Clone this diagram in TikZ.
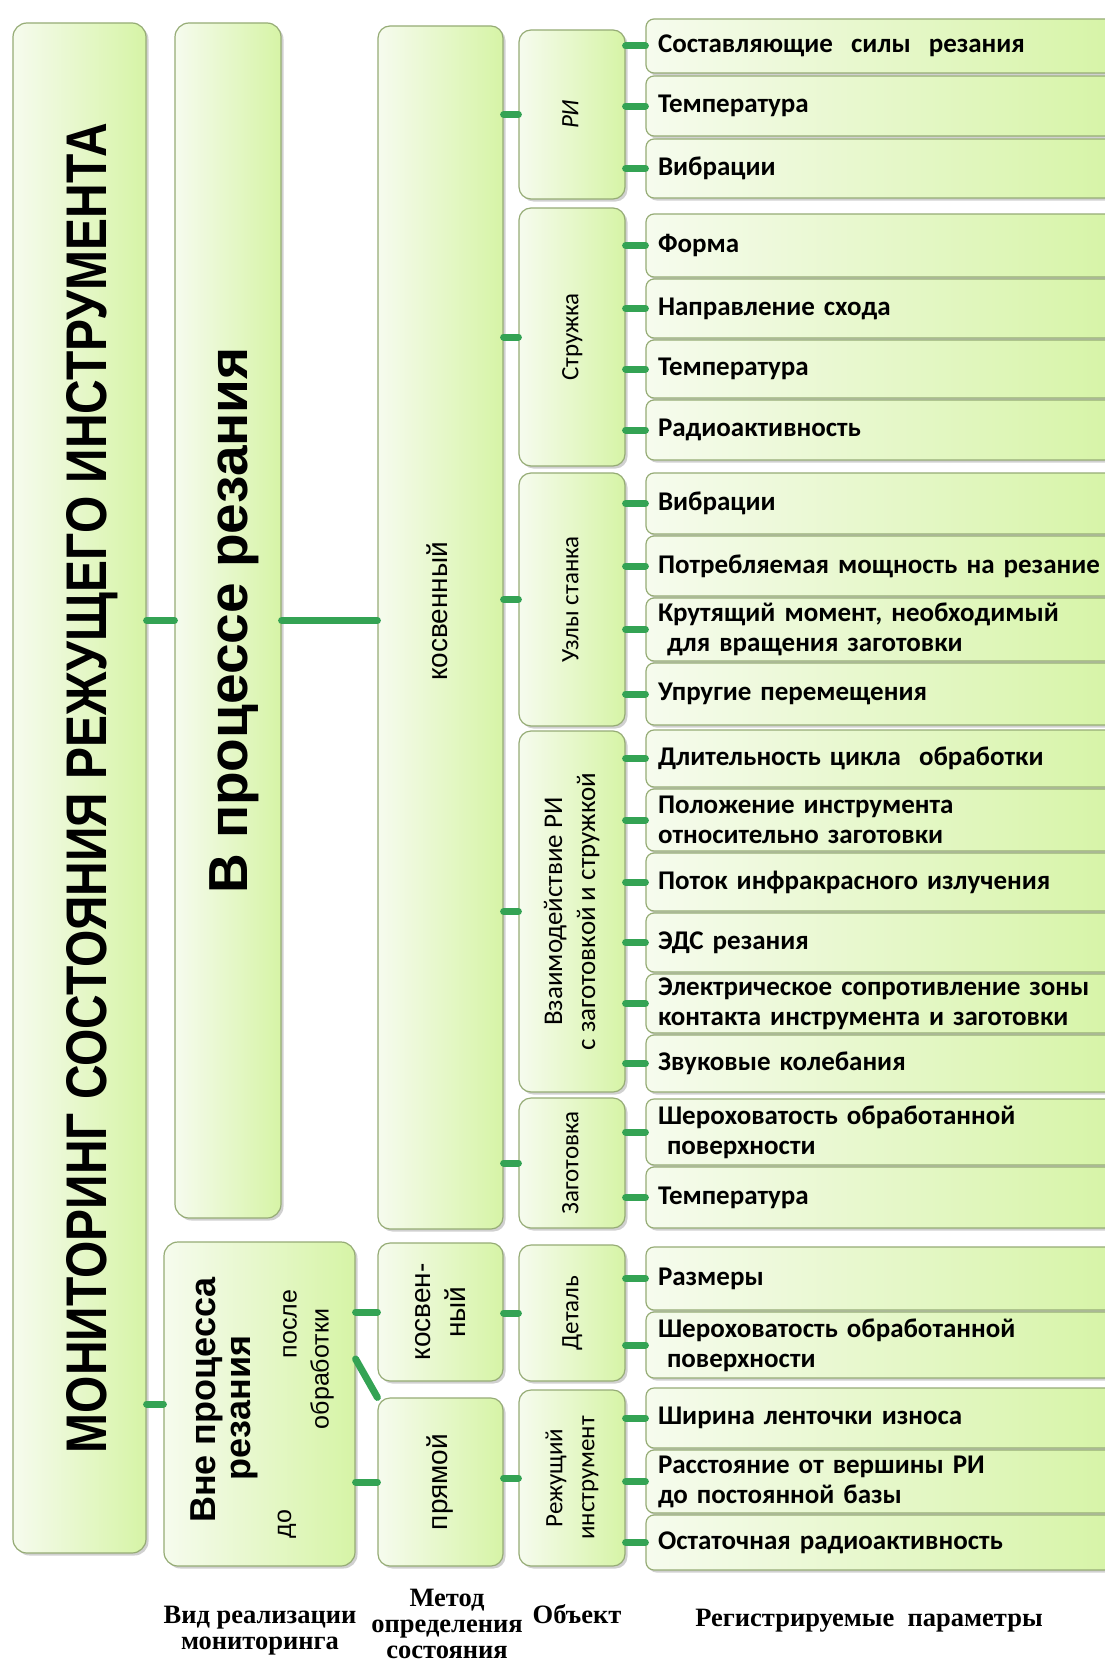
\documentclass[tikz,border=0pt]{standalone}
\usepackage{fontspec}
\setmainfont{Carlito}
\newfontfamily\ls{Liberation Sans}
\newfontfamily\lser{Liberation Serif}
\usetikzlibrary{shadows}
\definecolor{bxL}{RGB}{246,251,238}
\definecolor{bxR}{RGB}{214,244,166}
\definecolor{bxD}{RGB}{150,172,118}
\definecolor{cn}{RGB}{52,163,84}
\tikzset{
 bx/.style={draw=bxD, line width=1.2pt, left color=bxL, right color=bxR, inner sep=0pt,
   drop shadow={shadow xshift=2.5pt, shadow yshift=-2.5pt, opacity=0.3, fill=black!60}},
 big/.style={bx, rounded corners=14pt},
 obj/.style={bx, rounded corners=12pt, font=\fontsize{25}{32}\selectfont},
 meth/.style={bx, rounded corners=12pt, font=\ls\fontsize{28}{35}\selectfont},
 prm/.style={bx, rounded corners=8pt, text width=450pt, align=left, font=\bfseries\fontsize{27}{30}\selectfont},
 conn/.style={draw=cn, line width=7pt, line cap=round},
 lbl/.style={font=\lser\bfseries\fontsize{26.5}{26}\selectfont, align=center},
 vt/.style={rotate=90, inner sep=0pt}
}
% [options]{name}{x1}{y1}{x2}{y2}{text}
\newcommand\bxnode[7][]{\node[#1, minimum width={(#5-#3)*1pt}, minimum height={(#6-#4)*1pt}]
  (#2) at ({(#3+#5)/2},{(#4+#6)/2}) {#7};}
\newcommand\prmbox[4]{\bxnode[prm]{#1}{646}{#2}{1120}{#3}{#4}}
\newcommand\rt[1]{\rotatebox{90}{\begin{tabular}{@{}c@{}}#1\end{tabular}}}
\begin{document}
\begin{tikzpicture}[x=1pt,y=-1pt]
\useasboundingbox[fill=white] (0,0) rectangle (1105,1662);

% column 1
\bxnode[big]{main}{13}{23}{146}{1553}{\hspace*{26pt}\rotatebox{90}{\resizebox{1330pt}{40pt}{\ls\bfseries МОНИТОРИНГ СОСТОЯНИЯ РЕЖУЩЕГО ИНСТРУМЕНТА}}}
% column 2
\bxnode[big, font=\ls\bfseries\fontsize{55}{57}\selectfont]{inproc}{175}{23}{281}{1218}{\hspace*{17pt}\rt{В процессе резания}}
\bxnode[big]{vne}{164}{1242}{355}{1566}{}
\node[vt, font=\ls\bfseries\fontsize{36}{36}\selectfont] (vneA) at (207,1400) {Вне процесса};
\node[vt, font=\ls\bfseries\fontsize{36}{36}\selectfont] (vneB) at (245,1408) {резания};
\node[vt, font=\ls\fontsize{25}{25}\selectfont] (vneC) at (287,1524) {до};
\node[vt, font=\ls\fontsize{25}{25}\selectfont] (vneD) at (290,1324) {после};
\node[vt, font=\ls\fontsize{25}{25}\selectfont] (vneE) at (322,1369) {обработки};
% column 3
\bxnode[meth]{kosv}{378}{26}{503}{1229}{\rt{\hspace*{32pt}косвенный}}
\bxnode[meth]{kosv2}{378}{1243}{503}{1381}{\rt{косвен-\\ный}}
\bxnode[meth]{pryam}{378}{1398}{503}{1566}{\rt{прямой}}
% column 4
\bxnode[obj]{ri}{519}{30}{625}{199}{\rt{\itshape РИ}}
\bxnode[obj]{str}{519}{208}{625}{466}{\rt{Стружка}}
\bxnode[obj]{uzl}{519}{473}{625}{726}{\rt{Узлы станка}}
\bxnode[obj, font=\fontsize{27}{33}\selectfont]{vz}{519}{731}{625}{1092}{\rt{Взаимодействие РИ\\с заготовкой и стружкой}}
\bxnode[obj]{zag}{519}{1098}{625}{1228}{\rt{Заготовка}}
\bxnode[obj]{det}{519}{1245}{625}{1381}{\rt{Деталь}}
\bxnode[obj]{rez}{519}{1390}{625}{1566}{\rt{Режущий\\инструмент}}
% column 5
\prmbox{p1}{19}{73}{Составляющие~ силы~ резания}
\prmbox{p2}{76}{136}{\raisebox{-3pt}{Температура}}
\prmbox{p3}{139}{198}{\raisebox{-3pt}{Вибрации}}
\prmbox{p4}{214}{277}{Форма}
\prmbox{p5}{279}{338}{Направление схода}
\prmbox{p6}{340}{398}{Температура}
\prmbox{p7}{400}{460}{Радиоактивность}
\prmbox{p8}{473}{534}{Вибрации}
\prmbox{p9}{536}{596}{Потребляемая мощность на резание}
\prmbox{p10}{598}{661}{Крутящий момент, необходимый\\\ для вращения заготовки}
\prmbox{p11}{663}{725}{Упругие перемещения}
\prmbox{p12}{730}{787}{Длительность цикла~ обработки}
\prmbox{p13}{789}{851}{Положение инструмента\\относительно заготовки}
\prmbox{p14}{853}{911}{Поток инфракрасного излучения}
\prmbox{p15}{913}{972}{ЭДС резания}
\prmbox{p16}{974}{1033}{Электрическое сопротивление зоны\\контакта инструмента и заготовки}
\prmbox{p17}{1035}{1092}{Звуковые колебания}
\prmbox{p18}{1099}{1165}{Шероховатость обработанной\\\ поверхности}
\prmbox{p19}{1167}{1228}{Температура}
\prmbox{p20}{1247}{1310}{Размеры}
\prmbox{p21}{1312}{1378}{Шероховатость обработанной\\\ поверхности}
\prmbox{p22}{1388}{1448}{Ширина ленточки износа}
\prmbox{p23}{1450}{1513}{Расстояние от вершины РИ\\до постоянной базы}
\prmbox{p24}{1515}{1570}{Остаточная радиоактивность}

% connectors
\draw[conn] (inproc.west -| main.east) -- (inproc.west);
\draw[conn] (inproc.east) -- (inproc.east -| kosv.west);
\draw[conn] (vne.west -| main.east) -- (vne.west);
\draw[conn] (kosv2.west -| vne.east) -- (kosv2.west);
\draw[conn] (pryam.west -| vne.east) -- (pryam.west);
\draw[conn] ([yshift=45pt]vne.east) -- (pryam.north west);
\foreach \o in {ri,str,uzl,vz,zag} \draw[conn] (\o.west -| kosv.east) -- (\o.west);
\draw[conn] (det.west -| kosv2.east) -- (det.west);
\draw[conn] (rez.west -| pryam.east) -- (rez.west);
\foreach \o/\p in {ri/p1,ri/p2,ri/p3,str/p4,str/p5,str/p6,str/p7,uzl/p8,uzl/p9,uzl/p10,uzl/p11,
  vz/p12,vz/p13,vz/p14,vz/p15,vz/p16,vz/p17,zag/p18,zag/p19,det/p20,det/p21,rez/p22,rez/p23,rez/p24}
  \draw[conn] (\p.west -| \o.east) -- (\p.west);

% bottom labels
\node[lbl] (lv) at (260,1631) {Вид реализации\\мониторинга};
\node[lbl] (lm) at (447,1624) {Метод\\определения\\состояния};
\node[lbl] (lo) at (577,1614) {Объект};
\node[lbl] (lr) at (869,1621) {Регистрируемые~ параметры};
\end{tikzpicture}
\end{document}
